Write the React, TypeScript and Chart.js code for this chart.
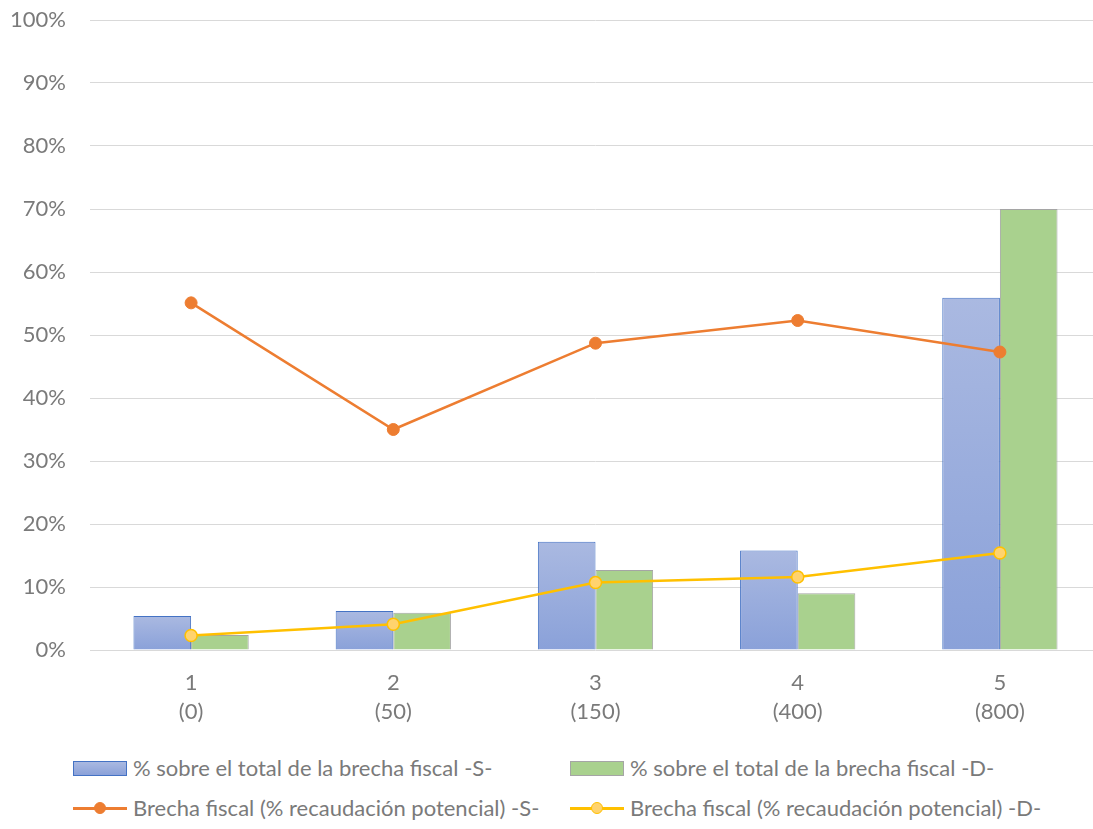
import React, { useEffect, useRef } from "react";
import { Chart, registerables } from "chart.js";

Chart.register(...registerables);

const categories: string[][] = [
  ["1", "(0)"],
  ["2", "(50)"],
  ["3", "(150)"],
  ["4", "(400)"],
  ["5", "(800)"],
];
const sharePctS: number[] = [5.4, 6.2, 17.2, 15.8, 55.9];
const sharePctD: number[] = [2.4, 5.9, 12.7, 9.0, 70.0];
const gapPctS: number[] = [55.1, 35.0, 48.7, 52.3, 47.3];
const gapPctD: number[] = [2.3, 4.1, 10.7, 11.6, 15.4];
const yTicks: number[] = [0, 10, 20, 30, 40, 50, 60, 70, 80, 90, 100];

const labelS = "% sobre el total de la brecha fiscal -S-";
const labelD = "% sobre el total de la brecha fiscal -D-";
const labelGapS = "Brecha fiscal (% recaudación potencial) -S-";
const labelGapD = "Brecha fiscal (% recaudación potencial) -D-";

const FONT = "Lato, 'Open Sans', sans-serif";
const FONT_SIZE = 22;
const TEXT = "#7a7a7a";
const BLUE_TOP = "#aab9e1";
const BLUE_BOTTOM = "#8aa1d9";
const BLUE_BORDER = "#4472c4";
const GREEN = "#a9d18e";
const GREEN_BORDER = "#a5a5a5";
const ORANGE = "#ed7d31";
const YELLOW = "#ffc000";
const YELLOW_FILL = "#ffd36e";

export default function App() {
  const ref = useRef<HTMLCanvasElement | null>(null);

  useEffect(() => {
    document.body.style.margin = "0";
    const canvas = ref.current;
    if (!canvas) return;
    const blueFill = (ctx: any) => {
      const chart = ctx.chart;
      const y = chart.scales && chart.scales.y;
      if (ctx.type !== "data" || !y) return BLUE_TOP;
      const top = y.getPixelForValue(ctx.raw);
      const bottom = y.getPixelForValue(0);
      if (!isFinite(top) || !isFinite(bottom) || top === bottom) return BLUE_TOP;
      const g = chart.ctx.createLinearGradient(0, top, 0, bottom);
      g.addColorStop(0, BLUE_TOP);
      g.addColorStop(1, BLUE_BOTTOM);
      return g;
    };
    const chart = new Chart(canvas, {
      type: "bar",
      data: {
        labels: categories,
        datasets: [
          {
            type: "line",
            label: labelGapS,
            data: gapPctS,
            borderColor: ORANGE,
            backgroundColor: ORANGE,
            borderWidth: 2.5,
            pointRadius: 6,
            pointBackgroundColor: ORANGE,
            pointBorderColor: ORANGE,
            pointBorderWidth: 1,
            order: 0,
          },
          {
            type: "line",
            label: labelGapD,
            data: gapPctD,
            borderColor: YELLOW,
            backgroundColor: YELLOW_FILL,
            borderWidth: 2.5,
            pointRadius: 6,
            pointBackgroundColor: YELLOW_FILL,
            pointBorderColor: YELLOW,
            pointBorderWidth: 1.5,
            order: 0,
          },
          {
            type: "bar",
            label: labelS,
            data: sharePctS,
            backgroundColor: blueFill,
            borderColor: BLUE_BORDER,
            borderWidth: 1,
            categoryPercentage: 0.57,
            barPercentage: 1,
            order: 1,
          },
          {
            type: "bar",
            label: labelD,
            data: sharePctD,
            backgroundColor: GREEN,
            borderColor: GREEN_BORDER,
            borderWidth: 1,
            categoryPercentage: 0.57,
            barPercentage: 1,
            order: 1,
          },
        ],
      } as any,
      options: {
        responsive: false,
        animation: false,
        layout: { autoPadding: false, padding: { top: 20, right: 0, bottom: 0, left: 0 } },
        plugins: {
          legend: { display: false },
          tooltip: { enabled: false },
        },
        scales: {
          x: {
            grid: { display: false, drawTicks: false },
            border: { display: false },
            ticks: {
              color: TEXT,
              font: { family: FONT, size: FONT_SIZE, lineHeight: 1.32 },
              padding: 18,
              maxRotation: 0,
            },
            afterFit: (s: any) => {
              s.height = 90;
              s.paddingLeft = 0;
              s.paddingRight = 0;
            },
          },
          y: {
            min: 0,
            max: 100,
            afterBuildTicks: (s: any) => {
              s.ticks = yTicks.map((v) => ({ value: v }));
            },
            grid: { color: "#d9d9d9", lineWidth: 1, drawTicks: false },
            border: { display: false },
            ticks: {
              color: TEXT,
              font: { family: FONT, size: FONT_SIZE },
              padding: 24,
              callback: (v: any) => v + "%",
            },
            afterFit: (s: any) => {
              s.width = 90;
              s.paddingTop = 0;
              s.paddingBottom = 0;
            },
          },
        },
      } as any,
    });
    return () => chart.destroy();
  }, []);

  const textStyle: React.CSSProperties = {
    position: "absolute",
    fontFamily: FONT,
    fontSize: FONT_SIZE,
    color: TEXT,
    whiteSpace: "nowrap",
    lineHeight: "26px",
  };

  const barBox = (left: number, top: number, bg: string, border: string) => (
    <div
      style={{
        position: "absolute",
        left,
        top,
        width: 52,
        height: 13,
        background: bg,
        border: `1px solid ${border}`,
      }}
    />
  );

  const lineMark = (left: number, top: number, color: string, fill: string) => (
    <div style={{ position: "absolute", left, top, width: 54, height: 14 }}>
      <div
        style={{
          position: "absolute",
          left: 0,
          top: 6,
          width: 54,
          height: 2.5,
          background: color,
        }}
      />
      <div
        style={{
          position: "absolute",
          left: 21,
          top: 1,
          width: 10,
          height: 10,
          borderRadius: "50%",
          background: fill,
          border: `1.5px solid ${color}`,
        }}
      />
    </div>
  );

  return (
    <div
      style={{
        position: "relative",
        width: 1093,
        height: 829,
        overflow: "hidden",
        background: "#ffffff",
      }}
    >
      <div style={{ position: "absolute", left: 0, top: 0, width: 1101, height: 740 }}>
        <canvas
          ref={ref}
          width={1101}
          height={740}
          style={{ display: "block", width: 1101, height: 740 }}
        />
      </div>
      {barBox(73, 761, `linear-gradient(${BLUE_TOP}, ${BLUE_BOTTOM})`, BLUE_BORDER)}
      <div style={{ ...textStyle, left: 133, top: 755 }}>{labelS}</div>
      {barBox(570, 761, GREEN, GREEN_BORDER)}
      <div style={{ ...textStyle, left: 630, top: 755 }}>{labelD}</div>
      {lineMark(73, 801, ORANGE, ORANGE)}
      <div style={{ ...textStyle, left: 133, top: 795 }}>{labelGapS}</div>
      {lineMark(570, 801, YELLOW, YELLOW_FILL)}
      <div style={{ ...textStyle, left: 630, top: 795 }}>{labelGapD}</div>
    </div>
  );
}
